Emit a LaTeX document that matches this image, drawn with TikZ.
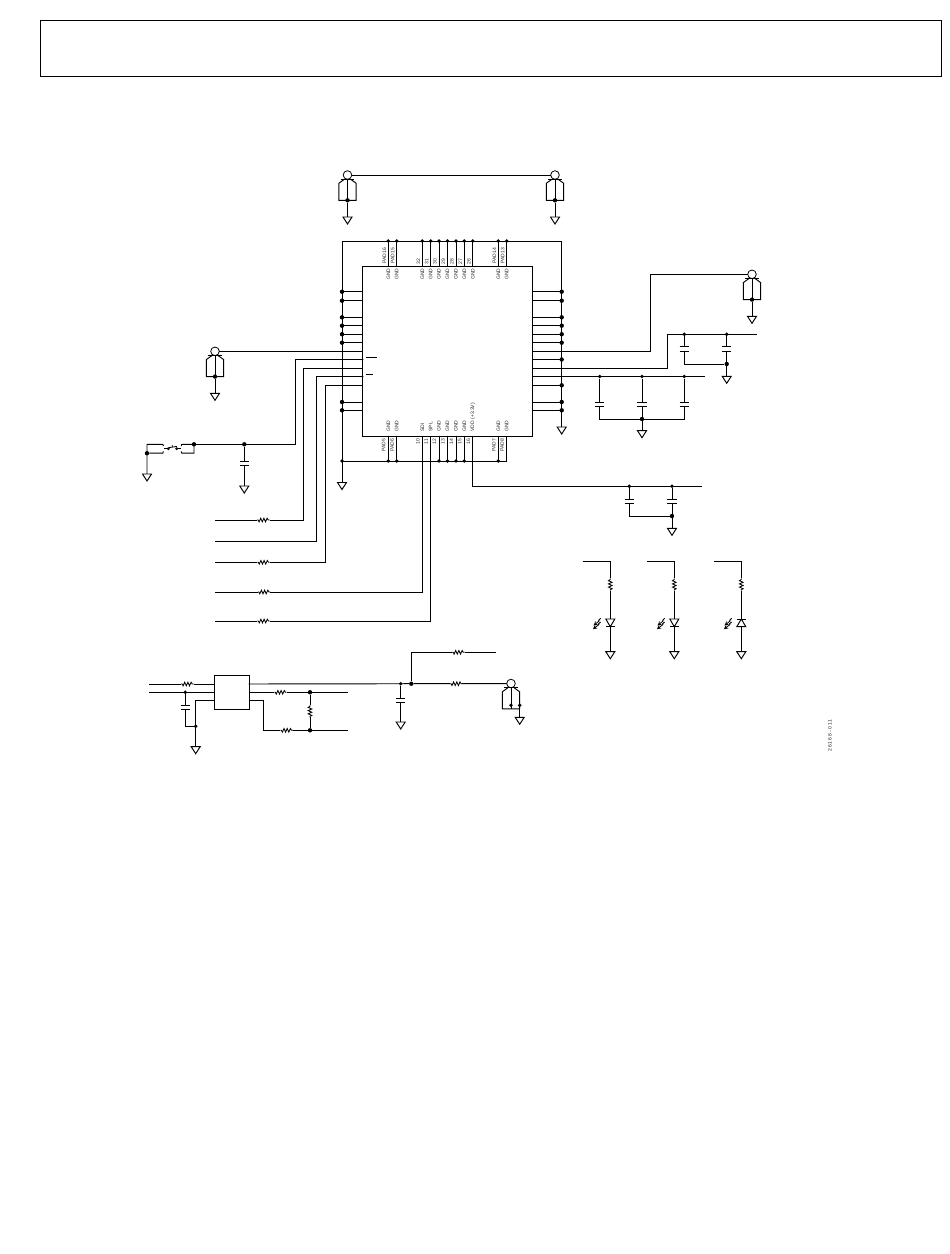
\documentclass[tikz,border=0pt]{standalone}
\usepackage{fontspec}
\setsansfont{Liberation Sans}
\usetikzlibrary{arrows,positioning}
\tikzset{
  wire/.style={line width=0.95pt},
  jdot/.style={circle, fill=black, inner sep=0pt, minimum size=4.4pt},
  sdot/.style={circle, fill=black, inner sep=0pt, minimum size=3.8pt},
  pinlab/.style={rotate=90, anchor=west, inner sep=0pt, text=black!85, font=\sffamily\fontsize{5}{5}\selectfont},
  gnd/.pic={\draw[wire, fill=white] (-4.5,0) -- (4.5,0) -- (0,7) -- cycle;},
  capv/.pic={\fill[white] (-4.5,-2.2) rectangle (4.5,2.2);
    \draw[wire] (-4.6,-2.2) -- (4.6,-2.2) (-4.6,2.2) -- (4.6,2.2);},
  resh/.pic={\fill[white] (-6.2,-0.8) rectangle (6.2,0.8);
    \draw[line width=0.85pt] (-6.2,0) -- (-5.2,0) -- (-4.2,1.8) -- (-2.6,-1.8) -- (-1,1.8) -- (0.6,-1.8) -- (2.2,1.8) -- (3.8,-1.8) -- (5,0) -- (6.2,0);},
  coax/.pic={\draw[line width=0.8pt] (0,0) circle (4.3);
    \draw[wire] (0,4.3) -- (0,25.3);
    \draw[line width=1.3pt] (-6.8,4.2) -- (6.8,4.2);
    \draw[wire] (-3.3,4.4) -- (-8.7,8.3) -- (-8.7,25.3) -- (8.7,25.3) -- (8.7,8.3) -- (3.3,4.4);},
  diodedn/.pic={\draw[wire, fill=white] (-4.5,0) -- (4.5,0) -- (0,7.7) -- cycle;
    \draw[wire] (-4.5,7.7) -- (4.5,7.7);},
  diodeup/.pic={\draw[wire, fill=white] (-4.5,7.7) -- (4.5,7.7) -- (0,0) -- cycle;
    \draw[wire] (-4.5,0) -- (4.5,0);},
  ledrays/.pic={\draw[line width=0.85pt, ->, >=stealth] (-9.6,-0.6) -- (-11.6,1.2) -- (-11.2,2) -- (-16.8,6.5);
    \draw[line width=0.85pt, ->, >=stealth] (-9.6,3) -- (-11.8,4.8) -- (-11.4,5.6) -- (-17.4,10.2);}
}
\begin{document}
\begin{tikzpicture}[x=1pt,y=-1pt]
  \useasboundingbox (0,0) rectangle (950,1254);
  \node[draw, line width=1.1pt, minimum width=900.5pt, minimum height=56pt, anchor=north west, inner sep=0pt] (titlebox) at (40.2,20) {};
  \node[draw, line width=1pt, minimum width=169.7pt, minimum height=169.7pt, anchor=north west, inner sep=0pt] (chip) at (362.3,266) {};
  \foreach \y [count=\i] in {291.7,300.7,317.3,325.7,334.2,342.7,351.3,359.5,368.3,376.5,385.3,402,410.3}{
    \coordinate (L\i) at (362.3,\y);
    \coordinate (R\i) at (532,\y);
    \coordinate (LB\i) at (342,\y);
    \coordinate (RB\i) at (561.7,\y);
  }
  \foreach \x [count=\i] in {388.3,396.7,422.3,430.7,439,447.5,456,464.3,472.8,498.3,506.7}{
    \coordinate (T\i) at (\x,266);
    \coordinate (B\i) at (\x,435.7);
    \coordinate (TB\i) at (\x,241);
    \coordinate (BB\i) at (\x,461);
  }
  \coordinate (tl) at (342,241);
  \coordinate (tr) at (561.7,241);
  \coordinate (gl) at (342,482.5);
  \coordinate (gr) at (561.7,427);
  \coordinate (bl) at (342,461);
  \draw[wire] (gl) -- (tl) -- (tr) -- (gr);
  \draw[wire] (bl) -- (BB11) -- (B11);
  \pic at (gl) {gnd};
  \pic at (gr) {gnd};
  \foreach \i in {1,...,11}{
    \draw[wire] (T\i) -- (TB\i);
    \node[sdot] (tdot\i) at (TB\i) {};
  }
  \foreach \i in {1,2,5,6,7,8,10}{
    \draw[wire] (B\i) -- (BB\i);
    \node[sdot] (bdot\i) at (BB\i) {};
  }
  \node[sdot] (bdotl) at (bl) {};
  \foreach \i in {1,2,3,4,5,6,12,13}{
    \draw[wire] (L\i) -- (LB\i);
    \node[jdot] (ldot\i) at (LB\i) {};
  }
  \foreach \i in {1,2,3,4,5,6,8,11,12,13}{
    \draw[wire] (R\i) -- (RB\i);
    \node[jdot] (rdot\i) at (RB\i) {};
  }
  \foreach \i/\t in {1/PAD16,2/PAD15,10/PAD14,11/PAD13}{
    \node[pinlab] (tpad\i) at ([shift={(-4,-2.5)}]T\i) {\t};
  }
  \foreach \i/\t in {3/32,4/31,5/30,6/29,7/28,8/27,9/26}{
    \node[pinlab] (tnum\i) at ([shift={(-4,-1.5)}]T\i) {\t};
  }
  \foreach \i in {1,...,11}{
    \node[pinlab] (tgnd\i) at ([shift={(0,14)}]T\i) {GND};
  }
  \foreach \i/\t in {1/GND,2/GND,3/SDI,4/SPL,5/GND,6/GND,7/GND,8/GND,9/VDD (+3.3V),10/GND,11/GND}{
    \node[pinlab] (bsig\i) at ([shift={(0,-4)}]B\i) {\t};
  }
  \foreach \i/\t in {1/PAD5,2/PAD6,10/PAD7,11/PAD8}{
    \node[pinlab] (bpad\i) at ([shift={(-4.5,16)}]B\i) {\t};
  }
  \foreach \i/\t in {3/10,4/11,5/12,6/13,7/14,8/15,9/16}{
    \node[pinlab] (bnum\i) at ([shift={(-4.5,8.5)}]B\i) {\t};
  }
  \node[sdot, minimum size=2.4pt] (ldot8) at (L8) {};
  \node[sdot, minimum size=2.4pt] (ldot10) at (L10) {};
  \coordinate (bara) at (366,357.3);
  \coordinate (barb) at (376.7,357.3);
  \coordinate (barc) at (366,374.3);
  \coordinate (bard) at (372.7,374.3);
  \draw[wire] (bara) -- (barb) (barc) -- (bard);

  \coordinate (cxa) at (347.5,175);
  \coordinate (cxb) at (555,175);
  \coordinate (cxc) at (752,274.3);
  \coordinate (cxd) at (215,351.3);
  \coordinate (cxe) at (511,683.5);
  \foreach \c in {cxa,cxb,cxc,cxd}{
    \pic at (\c) {coax};
    \node[jdot] (\c base) at ([shift={(0,25.3)}]\c) {};
    \coordinate (\c g) at ([shift={(0,42)}]\c);
    \draw[wire] (\c base) -- (\c g);
    \pic at (\c g) {gnd};
  }
  \draw[wire] ([shift={(4.3,0)}]cxa) -- ([shift={(-4.3,0)}]cxb);
  \draw[wire] (L7) -- ([shift={(4.3,0)}]cxd);

  \coordinate (wa) at (295.8,444.3);
  \coordinate (swr) at (194,444.3);
  \node[jdot] (swdot) at (swr) {};
  \draw[wire] (L8) -| (wa) -- (swr);
  \node[jdot] (cswtop) at (244.3,444.3) {};
  \coordinate (cswg) at (244.3,486);
  \draw[wire] (cswtop) -- (cswg);
  \pic at (244.3,463.5) {capv};
  \pic at (cswg) {gnd};
  \coordinate (swa) at (147,444.3);
  \coordinate (swg) at (147,474);
  \node[jdot] (swb) at (147,453.2) {};
  \draw[wire] (swg) -- (swa) -- (162.8,444.3) -- (163.4,446);
  \draw[wire] (swb) -- (162.8,453.2) -- (163.4,451.4);
  \draw[wire] (181.2,446) -- (181.8,444.3) -- (swr) -- (194,453.2) -- (181.8,453.2) -- (181.2,451.4);
  \pic at (swg) {gnd};
  \draw[line width=0.85pt] (164,448.7) -- (167.3,448.7) (177.7,448.7) -- (180.8,448.7);
  \draw[line width=0.8pt] (168.3,448.7) circle (1) (176.7,448.7) circle (1);
  \draw[line width=0.85pt] (169,447.6) -- (177,446.4) (172.3,445) -- (172.3,447);

  \coordinate (jr) at (303.7,520);
  \coordinate (js) at (316.3,541.3);
  \coordinate (jt) at (325.5,562.3);
  \coordinate (ju) at (422.3,592);
  \coordinate (jv) at (430.7,621);
  \draw[wire] (L9) -| (jr) -- (214.7,520);
  \draw[wire] (L10) -| (js) -- (214.7,541.3);
  \draw[wire] (L11) -| (jt) -- (214.7,562.3);
  \draw[wire] (B3) -- (ju) -- (214.7,592);
  \draw[wire] (B4) -- (jv) -- (214.7,621);
  \foreach \p in {(263.3,520),(263.5,562.3),(264,592),(263.5,621)}{
    \pic at \p {resh};
  }

  \coordinate (wb) at (650.3,274.3);
  \draw[wire] (R7) -| (wb) -- ([shift={(-4.3,0)}]cxc);
  \coordinate (wc) at (667.3,334.3);
  \draw[wire] (R9) -| (wc) -- (756.7,334.3);
  \coordinate (wd) at (705.3,376.5);
  \draw[wire] (R10) -- (wd);
  \node[sdot] (ca) at (684.3,334.3) {};
  \node[sdot] (cb) at (726.7,334.3) {};
  \node[jdot] (cc) at (726.7,364) {};
  \coordinate (cag) at (726.7,376.3);
  \draw[wire] (ca) -- (684.3,364) -- (cc);
  \draw[wire] (cb) -- (cag);
  \pic at (684.3,349) {capv};
  \pic at (726.7,349) {capv};
  \pic at (cag) {gnd};
  \node[sdot] (cd) at (599.7,376.5) {};
  \node[sdot] (ce) at (642,376.5) {};
  \node[sdot] (cf) at (684.3,376.5) {};
  \node[jdot] (cgg) at (642,419) {};
  \coordinate (cgnd) at (642,430.7);
  \draw[wire] (cd) -- (599.7,419) -- (684.3,419) -- (cf);
  \draw[wire] (ce) -- (cgnd);
  \pic at (599.7,404.5) {capv};
  \pic at (642,404.5) {capv};
  \pic at (684.3,404.5) {capv};
  \pic at (cgnd) {gnd};

  \coordinate (we) at (472.8,486.3);
  \draw[wire] (B9) -- (we) -- (701.5,486.3);
  \node[sdot] (ch) at (629.3,486.3) {};
  \node[sdot] (ci) at (672,486.3) {};
  \node[jdot] (cj) at (672,516) {};
  \coordinate (cjg) at (672,528.3);
  \draw[wire] (ch) -- (629.3,516) -- (cj);
  \draw[wire] (ci) -- (cjg);
  \pic at (629.3,501.5) {capv};
  \pic at (672,501.5) {capv};
  \pic at (cjg) {gnd};

  \foreach \x/\w/\d [count=\n] in {610.3/582.7/diodedn,674.3/647/diodedn,741.3/714/diodeup}{
    \coordinate (ledtop\n) at (\x,561.3);
    \coordinate (ledg\n) at (\x,651.7);
    \draw[wire] (\w,561.3) -- (ledtop\n) -- (ledg\n);
    \pic[rotate=90] at (\x,584.5) {resh};
    \pic at (\x,619) {\d};
    \pic at (\x,619) {ledrays};
    \pic at (ledg\n) {gnd};
  }

  \node[draw, line width=1pt, minimum width=34.4pt, minimum height=34.3pt, anchor=north west, inner sep=0pt] (reg) at (214.3,675) {};
  \coordinate (ia) at (149.3,684);
  \coordinate (ib) at (149.3,692.3);
  \coordinate (oa) at (248.7,684);
  \node[sdot] (ic) at (185.3,692.3) {};
  \node[sdot] (id) at (195.7,726.3) {};
  \coordinate (idg) at (195.7,746.7);
  \draw[wire] (ia) -- (214.3,684);
  \draw[wire] (ib) -- (214.3,692.3);
  \draw[wire] (214.3,700.3) -| (idg);
  \draw[wire] (ic) -- (185.3,726.3) -- (id);
  \pic at (187.3,684) {resh};
  \pic at (185.3,707.7) {capv};
  \pic at (idg) {gnd};
  \node[jdot] (oc) at (310,692.3) {};
  \node[jdot] (od) at (310,730.3) {};
  \draw[wire] (248.7,692.3) -- (oc) -- (348.3,692.3);
  \draw[wire] (248.7,700.3) -- (263.3,700.3) -- (263.3,730.3) -- (od) -- (348.3,730.3);
  \draw[wire] (oc) -- (od);
  \pic at (280.5,692.3) {resh};
  \pic at (286.6,730.3) {resh};
  \pic[rotate=90] at (310,711.2) {resh};

  \node[sdot] (pa) at (400.7,683.7) {};
  \node[jdot] (pb) at (411.3,683.7) {};
  \coordinate (pag) at (400.7,722);
  \draw[wire] (oa) -- (pb) -- (502,683.7) -- (506.8,683.7);
  \draw[wire] (pa) -- (pag);
  \pic at (400.7,700.5) {capv};
  \pic at (pag) {gnd};
  \draw[wire] (pb) -- (411.3,652.3) -- (495.7,652.3);
  \pic at (458.3,652.3) {resh};
  \pic at (456.2,683.7) {resh};
  \pic at (cxe) {coax};
  \node[sdot] (pc) at ([shift={(0,21.8)}]cxe) {};
  \node[sdot] (pd) at ([shift={(8.7,21.8)}]cxe) {};
  \coordinate (pdg) at (519.7,717.3);
  \draw[wire] (pd) -- (pdg);
  \pic at (pdg) {gnd};

  \node[pinlab, font=\sffamily\fontsize{5}{5}\selectfont\addfontfeature{LetterSpace=22}] (figno) at (830,752) {26168-011};
\end{tikzpicture}
\end{document}
